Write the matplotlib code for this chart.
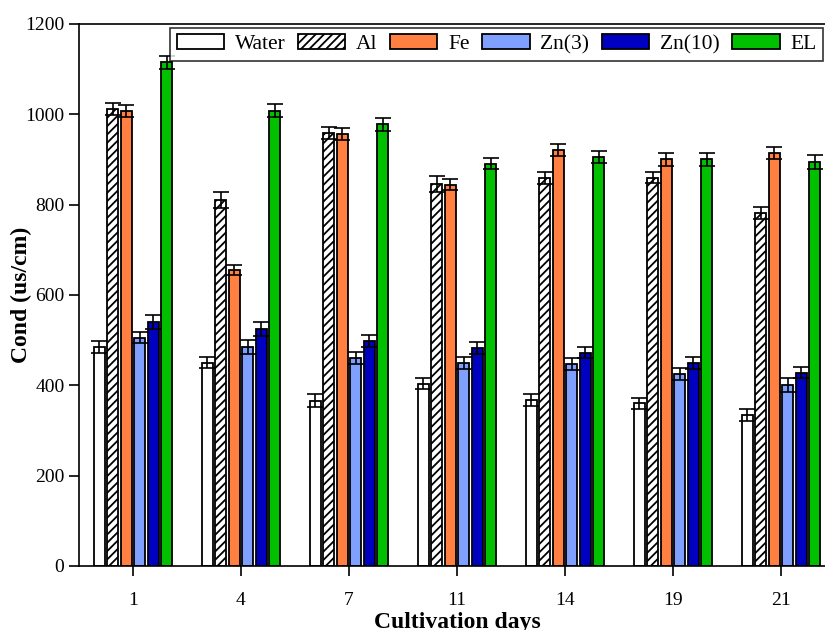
import matplotlib
matplotlib.use("Agg")
import matplotlib.pyplot as plt
import numpy as np

plt.rcParams['font.family'] = ['Liberation Serif', 'DejaVu Serif']
plt.rcParams['hatch.linewidth'] = 1.3

days = ["1", "4", "7", "11", "14", "19", "21"]
series = ["Water", "Al", "Fe", "Zn(3)", "Zn(10)", "EL"]

water = [485, 450, 366, 404, 367, 360, 334]
al = [1012, 810, 959, 846, 859, 860, 782]
fe = [1007, 655, 956, 844, 921, 900, 914]
zn3 = [505, 485, 460, 450, 447, 425, 401]
zn10 = [540, 525, 498, 482, 472, 450, 428]
el = [1115, 1008, 978, 891, 906, 900, 894]

water_err = [13, 12, 14, 12, 13, 12, 13]
al_err = [14, 18, 13, 17, 14, 13, 13]
fe_err = [14, 11, 13, 12, 14, 14, 14]
zn3_err = [12, 15, 13, 13, 13, 14, 16]
zn10_err = [16, 15, 13, 13, 12, 13, 12]
el_err = [15, 14, 14, 12, 13, 14, 16]

values = [water, al, fe, zn3, zn10, el]
errors = [water_err, al_err, fe_err, zn3_err, zn10_err, el_err]
colors = ["white", "white", "#FF8040", "#80A0FF", "#0000C0", "#00C000"]
hatches = [None, "////", None, None, None, None]

fig = plt.figure(figsize=(8.25, 6.3), dpi=100)
ax = fig.add_axes([79/825, 64/630, 756/825, 542/630])

x = np.arange(len(days))
width = 0.1
pitch = 0.125
for i, (v, e, c, h, name) in enumerate(zip(values, errors, colors, hatches, series)):
    pos = x + (i - 2.5) * pitch
    ax.bar(pos, v, width=width, color=c, edgecolor="black", linewidth=1.3,
           hatch=h, label=name, zorder=2)
    ax.errorbar(pos, v, yerr=e, fmt="none", ecolor="black", elinewidth=1.2,
                capsize=5.5, capthick=1.2, zorder=3)

ax.set_xlim(-0.5, 6.5)
ax.set_ylim(0, 1200)
ax.set_yticks(range(0, 1201, 200))
ax.set_xticks(x)
ax.set_xticklabels(days)
ax.tick_params(axis="both", direction="out", length=7, width=1.2,
               labelsize=14, colors="black")
ax.tick_params(axis="x", pad=12)
for s in ["left", "top", "bottom", "right"]:
    ax.spines[s].set_linewidth(1.2)

ax.set_xlabel("Cultivation days", fontsize=17, fontweight="bold", labelpad=2)
ax.set_ylabel("Cond (us/cm)", fontsize=17, fontweight="bold")
ax.yaxis.set_label_coords(-0.062, 0.5)

leg = ax.legend(ncol=6, loc="upper right", bbox_to_anchor=(823/825, 602/630),
                bbox_transform=fig.transFigure, fontsize=15.5,
                handlelength=2.2, handleheight=0.65, handletextpad=0.5,
                columnspacing=0.58, frameon=True, fancybox=False,
                borderpad=0.3, borderaxespad=0)
leg.get_frame().set_edgecolor("black")
leg.get_frame().set_linewidth(1.2)

fig.savefig("out.png", dpi=100)
